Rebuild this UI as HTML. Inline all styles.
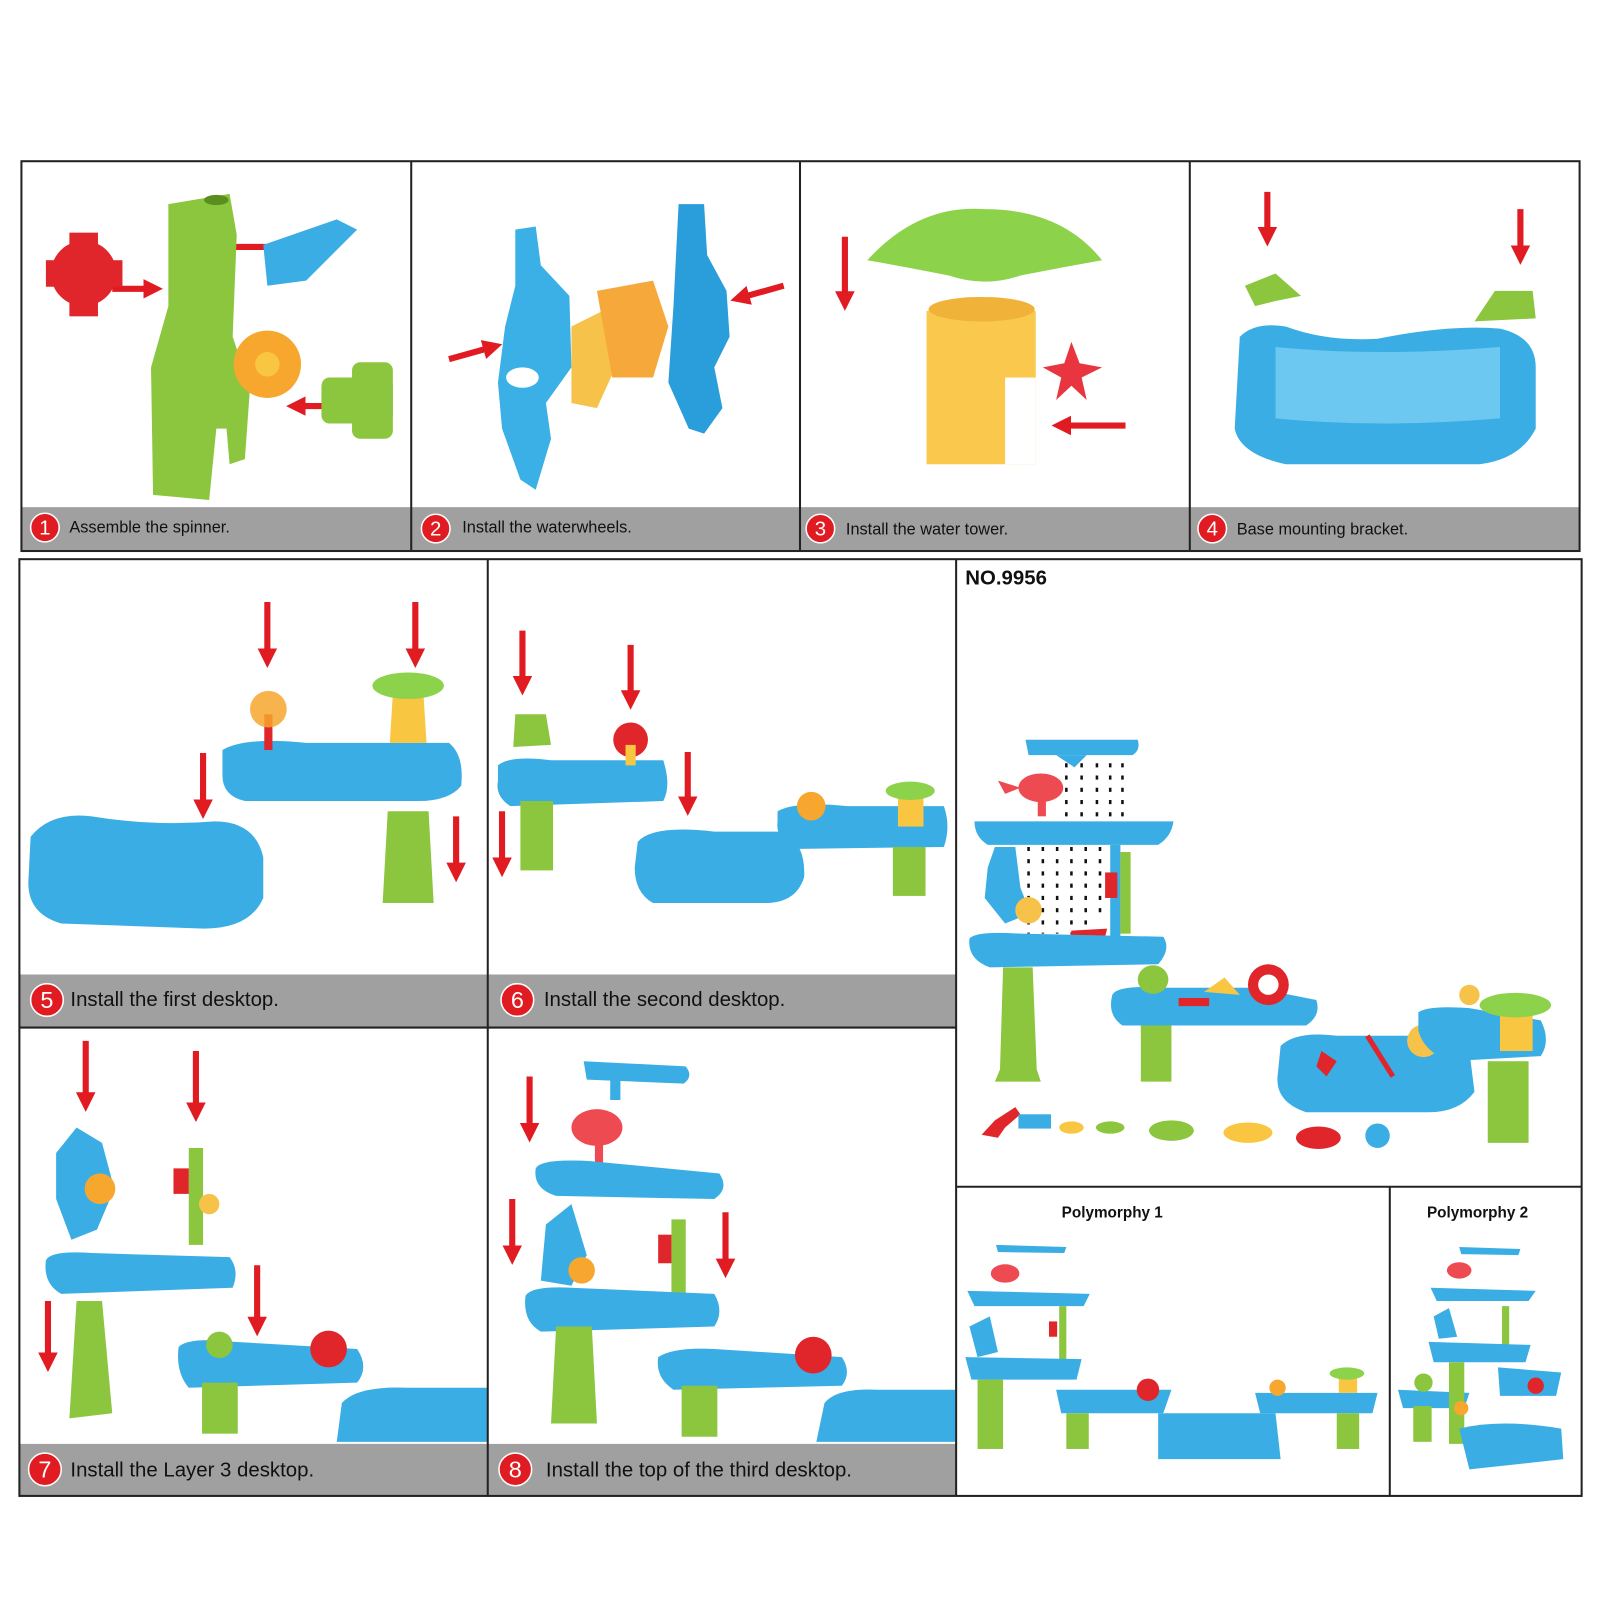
<!DOCTYPE html>
<html><head><meta charset="utf-8"><style>
html,body{margin:0;padding:0;background:#fff}
svg{display:block}
text{font-family:"Liberation Sans",sans-serif}
</style></head><body>
<svg width="1600" height="1600" viewBox="0 0 1568 1568" xmlns="http://www.w3.org/2000/svg">
<defs>
<marker id="ah" viewBox="0 0 10 10" refX="5" refY="5" markerWidth="3.2" markerHeight="3.2" orient="auto"><path d="M0,0 L10,5 L0,10 z" fill="#e01b22"/></marker>
</defs>
<rect width="1568" height="1568" fill="#fff"/>
<g stroke="#e01b22" stroke-width="6" fill="none" marker-end="url(#ah)">
<!-- p1 -->
<line x1="265" y1="242" x2="218" y2="242"/><line x1="110" y1="283" x2="150" y2="283"/>
<line x1="245" y1="352" x2="198" y2="352"/><line x1="335" y1="398" x2="290" y2="398"/>
<!-- p2 -->
<line x1="440" y1="352" x2="483" y2="340"/><line x1="768" y1="280" x2="725" y2="292"/>
<!-- p3 -->
<line x1="828" y1="232" x2="828" y2="295"/><line x1="1103" y1="417" x2="1040" y2="417"/>
<!-- p4 -->
<line x1="1242" y1="188" x2="1242" y2="232"/><line x1="1490" y1="205" x2="1490" y2="250"/>
<!-- p5 -->
<line x1="262" y1="590" x2="262" y2="645"/><line x1="407" y1="590" x2="407" y2="645"/>
<line x1="199" y1="738" x2="199" y2="793"/><line x1="447" y1="800" x2="447" y2="855"/>
<!-- p6 -->
<line x1="512" y1="618" x2="512" y2="672"/><line x1="618" y1="632" x2="618" y2="686"/>
<line x1="674" y1="737" x2="674" y2="790"/><line x1="492" y1="795" x2="492" y2="850"/>
<!-- p7 -->
<line x1="84" y1="1020" x2="84" y2="1080"/><line x1="192" y1="1030" x2="192" y2="1090"/>
<line x1="252" y1="1240" x2="252" y2="1300"/><line x1="47" y1="1275" x2="47" y2="1335"/>
<!-- p8 -->
<line x1="519" y1="1055" x2="519" y2="1110"/><line x1="502" y1="1175" x2="502" y2="1230"/>
<line x1="711" y1="1188" x2="711" y2="1243"/>
</g>

<!-- panel 1 -->
<path d="M165,200 L225,190 L232,230 L228,330 L245,380 L240,450 L225,455 L222,420 L212,420 L205,490 L150,485 L148,360 L165,300 Z" fill="#8cc63f"/>
<ellipse cx="212" cy="196" rx="12" ry="5" fill="#5a8f1f"/>
<g fill="#e0262a"><circle cx="82" cy="268" r="32"/><rect x="45" y="255" width="75" height="26"/><rect x="68" y="228" width="28" height="82"/></g>
<path d="M258,240 L330,215 L350,225 L300,275 L262,280 Z" fill="#3aaee4"/>
<circle cx="262" cy="357" r="33" fill="#f7a72d"/><circle cx="262" cy="357" r="12" fill="#f9c642"/>
<g fill="#8cc63f"><rect x="315" y="370" width="70" height="45" rx="8"/><rect x="345" y="355" width="40" height="75" rx="8"/></g>
<!-- panel 2 -->
<path d="M505,225 L525,222 L530,260 L558,290 L560,360 L535,395 L540,430 L525,480 L510,470 L492,420 L488,375 L495,320 L505,280 Z" fill="#3ab0e6"/>
<ellipse cx="512" cy="370" rx="16" ry="10" fill="#fff"/>
<path d="M560,320 L600,300 L610,345 L585,400 L560,395 Z" fill="#f7c24a"/>
<path d="M585,285 L640,275 L655,320 L640,370 L600,370 Z" fill="#f6a93a"/>
<path d="M665,200 L690,200 L693,250 L712,285 L715,330 L700,360 L708,400 L690,425 L675,420 L655,375 L660,300 Z" fill="#2a9ddb"/>
<!-- panel 3 -->
<path d="M850,255 Q900,200 965,205 Q1040,205 1080,255 Q1040,262 1000,270 Q965,282 930,270 Q890,262 850,255 Z" fill="#8cd24a"/>
<path d="M908,305 Q960,285 1015,305 L1015,455 L908,455 Z" fill="#f9c84d"/>
<ellipse cx="962" cy="303" rx="52" ry="12" fill="#f1b23a"/>
<rect x="985" y="370" width="30" height="85" fill="#fff"/>
<path d="M1050,335 L1058,356 L1080,360 L1060,370 L1065,392 L1050,378 L1035,392 L1040,370 L1022,360 L1043,356 Z" fill="#e8353f"/>
<!-- panel 4 -->
<path d="M1215,330 Q1230,315 1260,320 Q1300,335 1350,332 Q1420,318 1470,322 Q1505,330 1505,360 L1505,420 Q1490,450 1450,455 L1260,455 Q1215,445 1210,420 Z" fill="#3aaee4"/>
<path d="M1250,340 Q1350,350 1470,340 L1470,410 Q1350,420 1250,410 Z" fill="#6cc8f0"/>
<path d="M1220,280 L1250,268 L1275,290 L1250,295 L1230,300 Z" fill="#8cc63f"/>
<path d="M1445,315 L1465,285 L1502,285 L1505,312 Z" fill="#8cc63f"/>

<!-- panel 5 -->
<path d="M30,820 Q50,795 90,800 Q150,810 210,805 Q250,805 258,840 L258,880 Q245,910 200,910 L60,905 Q25,895 28,860 Z" fill="#3aaee4"/>
<path d="M218,735 Q240,722 300,728 L440,728 Q455,740 452,770 Q440,785 410,785 L240,785 Q218,780 218,760 Z" fill="#3aaee4"/>
<path d="M380,795 L420,795 L425,885 L375,885 Z" fill="#8cc63f"/>
<path d="M385,680 L415,680 L418,728 L382,728 Z" fill="#f9c642"/>
<ellipse cx="400" cy="672" rx="35" ry="13" fill="#8cd24a"/>
<rect x="259" y="700" width="8" height="35" fill="#e0262a"/>
<circle cx="263" cy="695" r="18" fill="#f7a72d" opacity=".85"/>
<!-- panel 6 -->
<path d="M488,750 Q500,740 540,745 L650,745 Q658,770 650,785 L500,790 Q485,780 488,765 Z" fill="#3aaee4"/>
<rect x="510" y="785" width="32" height="68" fill="#8cc63f"/>
<path d="M505,700 L535,700 L540,730 L503,732 Z" fill="#8cc63f"/>
<circle cx="618" cy="725" r="17" fill="#e0262a"/><rect x="613" y="730" width="10" height="20" fill="#f9c642"/>
<path d="M625,825 Q640,808 700,815 L770,815 Q790,830 788,860 Q780,885 750,885 L640,885 Q622,875 622,850 Z" fill="#3aaee4"/>
<path d="M762,795 Q780,785 830,790 L925,790 Q932,810 925,830 L775,832 Q760,820 762,805 Z" fill="#3aaee4"/>
<rect x="875" y="830" width="32" height="48" fill="#8cc63f"/>
<rect x="880" y="780" width="25" height="30" fill="#f9c642"/><ellipse cx="892" cy="775" rx="24" ry="9" fill="#8cd24a"/>
<circle cx="795" cy="790" r="14" fill="#f7a72d"/>
<!-- caption bars -->
<g fill="#a0a0a0">
<rect x="21" y="497" width="1527" height="43"/>
<rect x="19" y="955" width="918" height="51"/>
<rect x="19" y="1415" width="918" height="51"/>
</g>
<!-- panel 7 -->
<path d="M55,1130 L75,1105 L100,1120 L112,1165 L95,1205 L70,1215 L55,1175 Z" fill="#3aaee4"/>
<circle cx="98" cy="1165" r="15" fill="#f7a72d"/>
<rect x="185" y="1125" width="14" height="95" fill="#8cc63f"/><rect x="170" y="1145" width="15" height="25" fill="#e0262a"/><circle cx="205" cy="1180" r="10" fill="#f7c24a"/>
<path d="M45,1235 Q50,1225 90,1228 L225,1232 Q235,1245 228,1262 L60,1268 Q42,1258 45,1235 Z" fill="#3aaee4"/>
<path d="M75,1275 L100,1275 L110,1385 L68,1390 Z" fill="#8cc63f"/>
<path d="M175,1320 Q185,1310 230,1315 L350,1322 Q362,1340 350,1355 L185,1360 Q172,1345 175,1320 Z" fill="#3aaee4"/>
<rect x="198" y="1355" width="35" height="50" fill="#8cc63f"/><circle cx="215" cy="1318" r="13" fill="#8cc63f"/>
<circle cx="322" cy="1322" r="18" fill="#e0262a"/>
<path d="M335,1375 Q350,1358 400,1360 L478,1360 L478,1413 L330,1413 Z" fill="#3aaee4"/>
<!-- panel 8 -->
<path d="M572,1040 L672,1045 Q680,1055 670,1062 L575,1058 Z" fill="#3aaee4"/><rect x="598" y="1058" width="10" height="20" fill="#3aaee4"/>
<ellipse cx="585" cy="1105" rx="25" ry="18" fill="#ee4a52"/><rect x="583" y="1120" width="8" height="22" fill="#ee4a52"/>
<path d="M525,1145 Q530,1135 580,1138 L705,1150 Q715,1165 700,1175 L545,1172 Q522,1165 525,1145 Z" fill="#3aaee4"/>
<path d="M535,1200 L560,1180 L575,1230 L560,1260 L530,1255 Z" fill="#3aaee4"/><circle cx="570" cy="1245" r="13" fill="#f7a72d"/>
<rect x="658" y="1195" width="14" height="85" fill="#8cc63f"/><rect x="645" y="1210" width="13" height="28" fill="#e0262a"/>
<path d="M515,1270 Q520,1260 560,1262 L700,1268 Q710,1285 700,1300 L530,1305 Q512,1295 515,1270 Z" fill="#3aaee4"/>
<path d="M545,1300 L580,1300 L585,1395 L540,1395 Z" fill="#8cc63f"/>
<path d="M645,1330 Q660,1320 700,1322 L825,1330 Q835,1345 825,1358 L660,1362 Q642,1350 645,1330 Z" fill="#3aaee4"/>
<rect x="668" y="1358" width="35" height="50" fill="#8cc63f"/><circle cx="797" cy="1328" r="18" fill="#e0262a"/>
<path d="M808,1375 Q820,1360 860,1362 L936,1362 L936,1413 L800,1413 Z" fill="#3aaee4"/>

<!-- main product -->
<g>
<path d="M1005,725 L1115,725 Q1118,735 1110,740 L1008,740 Z" fill="#3aaee4"/>
<path d="M1035,740 L1065,740 L1053,752 Z" fill="#3aaee4"/>
<ellipse cx="1020" cy="772" rx="22" ry="14" fill="#ee4a52"/><path d="M1000,772 L978,765 L985,778 Z" fill="#ee4a52"/>
<rect x="1017" y="782" width="8" height="18" fill="#ee4a52"/>
<path d="M955,805 L1150,805 Q1148,820 1135,828 L968,828 Q955,820 955,805 Z" fill="#3aaee4"/>
<rect x="1088" y="828" width="10" height="90" fill="#3aaee4"/>
<g stroke="#111" stroke-width="2.5" stroke-dasharray="4,8">
<line x1="1045" y1="748" x2="1045" y2="800"/><line x1="1060" y1="748" x2="1060" y2="800"/><line x1="1075" y1="748" x2="1075" y2="800"/><line x1="1088" y1="748" x2="1088" y2="800"/><line x1="1100" y1="748" x2="1100" y2="800"/>
<line x1="1008" y1="830" x2="1008" y2="915"/><line x1="1022" y1="830" x2="1022" y2="915"/><line x1="1036" y1="830" x2="1036" y2="915"/><line x1="1050" y1="830" x2="1050" y2="915"/><line x1="1064" y1="830" x2="1064" y2="915"/><line x1="1078" y1="830" x2="1078" y2="900"/>
</g>
<path d="M975,830 L995,830 L1000,870 L1010,895 L985,905 L965,880 L968,850 Z" fill="#3aaee4"/><circle cx="1008" cy="892" r="13" fill="#f7c24a"/>
<rect x="1098" y="835" width="10" height="80" fill="#8cc63f"/><rect x="1083" y="855" width="12" height="25" fill="#e0262a"/>
<path d="M1050,912 L1085,910 L1080,930 L1045,932 Z" fill="#e0262a"/>
<path d="M950,920 Q955,912 1000,915 L1140,918 Q1148,930 1135,945 L970,948 Q948,940 950,920 Z" fill="#3aaee4"/>
<path d="M983,948 L1012,948 L1016,1048 L1020,1060 L975,1060 L980,1048 Z" fill="#8cc63f"/>
<path d="M1090,975 Q1095,965 1140,968 L1230,968 L1290,980 Q1295,995 1280,1005 L1100,1005 Q1085,995 1090,975 Z" fill="#3aaee4"/>
<rect x="1118" y="1005" width="30" height="55" fill="#8cc63f"/>
<ellipse cx="1130" cy="960" rx="15" ry="14" fill="#8cc63f"/>
<circle cx="1243" cy="965" r="20" fill="#e0262a"/><circle cx="1243" cy="965" r="10" fill="#fff"/>
<path d="M1180,972 L1200,958 L1215,975 Z" fill="#f9c642"/><rect x="1155" y="978" width="30" height="8" fill="#e0262a"/>
<path d="M1255,1025 Q1270,1010 1310,1015 L1380,1015 Q1420,1010 1440,1030 L1445,1070 Q1430,1090 1400,1090 L1280,1090 Q1250,1080 1252,1055 Z" fill="#3aaee4"/>
<path d="M1295,1030 L1310,1040 L1300,1055 L1290,1045 Z" fill="#e0262a"/><line x1="1340" y1="1015" x2="1365" y2="1055" stroke="#e0262a" stroke-width="5"/>
<circle cx="1395" cy="1020" r="16" fill="#f7c24a"/>
<path d="M1390,992 Q1400,985 1440,988 L1510,1000 Q1520,1020 1510,1035 L1420,1040 Q1395,1030 1390,1010 Z" fill="#3aaee4"/>
<rect x="1458" y="1040" width="40" height="80" fill="#8cc63f"/>
<rect x="1470" y="995" width="32" height="35" fill="#f9c642"/><ellipse cx="1485" cy="985" rx="35" ry="12" fill="#8cd24a"/>
<circle cx="1440" cy="975" r="10" fill="#f7c24a"/>
<g>
<path d="M962,1112 L975,1098 L995,1085 L1000,1092 L985,1105 L978,1115 Z" fill="#e0262a"/>
<rect x="998" y="1092" width="32" height="14" fill="#3aaee4"/>
<ellipse cx="1050" cy="1105" rx="12" ry="6" fill="#f9c642"/>
<ellipse cx="1088" cy="1105" rx="14" ry="6" fill="#8cc63f"/>
<ellipse cx="1148" cy="1108" rx="22" ry="10" fill="#8cc63f"/>
<ellipse cx="1223" cy="1110" rx="24" ry="10" fill="#f9c642"/>
<ellipse cx="1292" cy="1115" rx="22" ry="11" fill="#e0262a"/>
<ellipse cx="1350" cy="1113" rx="12" ry="12" fill="#3aaee4"/>
</g>
</g>

<!-- polymorphy 1 -->
<g>
<path d="M976,1220 L1045,1222 L1043,1228 L978,1227 Z" fill="#3aaee4"/>
<ellipse cx="985" cy="1248" rx="14" ry="9" fill="#ee4a52"/>
<path d="M948,1265 L1068,1268 L1062,1280 L955,1280 Z" fill="#3aaee4"/>
<path d="M950,1300 L970,1290 L978,1325 L958,1330 Z" fill="#3aaee4"/>
<rect x="1038" y="1280" width="7" height="55" fill="#8cc63f"/><rect x="1028" y="1295" width="8" height="15" fill="#e0262a"/>
<path d="M946,1330 L1060,1332 L1055,1352 L952,1352 Z" fill="#3aaee4"/>
<rect x="958" y="1352" width="25" height="68" fill="#8cc63f"/>
<path d="M1035,1362 L1148,1362 L1140,1385 L1040,1385 Z" fill="#3aaee4"/>
<rect x="1045" y="1385" width="22" height="35" fill="#8cc63f"/><circle cx="1125" cy="1362" r="11" fill="#e0262a"/>
<path d="M1135,1385 L1250,1385 L1255,1430 L1135,1430 Z" fill="#3aaee4"/>
<path d="M1230,1365 L1350,1365 L1345,1385 L1235,1385 Z" fill="#3aaee4"/>
<rect x="1310" y="1385" width="22" height="35" fill="#8cc63f"/><rect x="1312" y="1350" width="18" height="15" fill="#f9c642"/><ellipse cx="1320" cy="1346" rx="17" ry="6" fill="#8cd24a"/>
<circle cx="1252" cy="1360" r="8" fill="#f7a72d"/>
</g>
<!-- polymorphy 2 -->
<g>
<path d="M1430,1222 L1490,1224 L1488,1230 L1432,1229 Z" fill="#3aaee4"/>
<ellipse cx="1430" cy="1245" rx="12" ry="8" fill="#ee4a52"/>
<path d="M1402,1262 L1505,1265 L1498,1275 L1408,1275 Z" fill="#3aaee4"/>
<path d="M1405,1290 L1420,1282 L1428,1310 L1410,1312 Z" fill="#3aaee4"/>
<rect x="1472" y="1280" width="7" height="40" fill="#8cc63f"/>
<path d="M1400,1315 L1500,1318 L1495,1335 L1405,1335 Z" fill="#3aaee4"/>
<path d="M1370,1362 L1440,1365 L1435,1380 L1375,1380 Z" fill="#3aaee4"/>
<rect x="1385" y="1378" width="18" height="35" fill="#8cc63f"/><circle cx="1395" cy="1355" r="9" fill="#8cc63f"/>
<path d="M1468,1340 L1530,1345 L1525,1368 L1470,1368 Z" fill="#3aaee4"/>
<rect x="1420" y="1335" width="15" height="80" fill="#8cc63f"/>
<path d="M1430,1400 Q1470,1390 1530,1400 L1532,1430 L1440,1440 Z" fill="#3aaee4"/>
<circle cx="1505" cy="1358" r="8" fill="#e0262a"/><circle cx="1432" cy="1380" r="7" fill="#f7a72d"/>
</g>

<!-- borders -->
<g fill="none" stroke="#222" stroke-width="2">
<rect x="21" y="158" width="1527" height="382"/>
<line x1="403" y1="158" x2="403" y2="540"/><line x1="784" y1="158" x2="784" y2="540"/><line x1="1166" y1="158" x2="1166" y2="540"/>
<rect x="19" y="548" width="1531" height="918"/>
<line x1="478" y1="548" x2="478" y2="1466"/><line x1="937" y1="548" x2="937" y2="1466"/>
<line x1="19" y1="1007" x2="937" y2="1007"/>
<line x1="937" y1="1163" x2="1550" y2="1163"/><line x1="1362" y1="1163" x2="1362" y2="1466"/>
</g>

<!-- number circles + captions -->
<g fill="#e01b22" stroke="#fff" stroke-width="1.5">
<circle cx="44" cy="517" r="14"/><circle cx="427" cy="518" r="14"/><circle cx="804" cy="518" r="14"/><circle cx="1188" cy="518" r="14"/>
<circle cx="46" cy="980" r="16"/><circle cx="507" cy="980" r="16"/><circle cx="44" cy="1440" r="16"/><circle cx="505" cy="1440" r="16"/>
</g>
<g fill="#fff" text-anchor="middle" font-size="20">
<text x="44" y="524">1</text><text x="427" y="525">2</text><text x="804" y="525">3</text><text x="1188" y="525">4</text>
<text x="46" y="988" font-size="23">5</text><text x="507" y="988" font-size="23">6</text><text x="44" y="1448" font-size="23">7</text><text x="505" y="1448" font-size="23">8</text>
</g>
<g fill="#111" font-size="16">
<text x="68" y="522">Assemble the spinner.</text>
<text x="453" y="522">Install the waterwheels.</text>
<text x="829" y="524">Install the water tower.</text>
<text x="1212" y="524">Base mounting bracket.</text>
</g>
<g fill="#111" font-size="20">
<text x="69" y="986">Install the first desktop.</text>
<text x="533" y="986">Install the second desktop.</text>
<text x="69" y="1447">Install the Layer 3 desktop.</text>
<text x="535" y="1447">Install the top of the third desktop.</text>
</g>
<text x="946" y="573" font-size="20" font-weight="bold" fill="#111">NO.9956</text>
<text x="1090" y="1193" font-size="15" font-weight="bold" fill="#111" text-anchor="middle">Polymorphy 1</text>
<text x="1448" y="1193" font-size="15" font-weight="bold" fill="#111" text-anchor="middle">Polymorphy 2</text>
</svg>
</body></html>
